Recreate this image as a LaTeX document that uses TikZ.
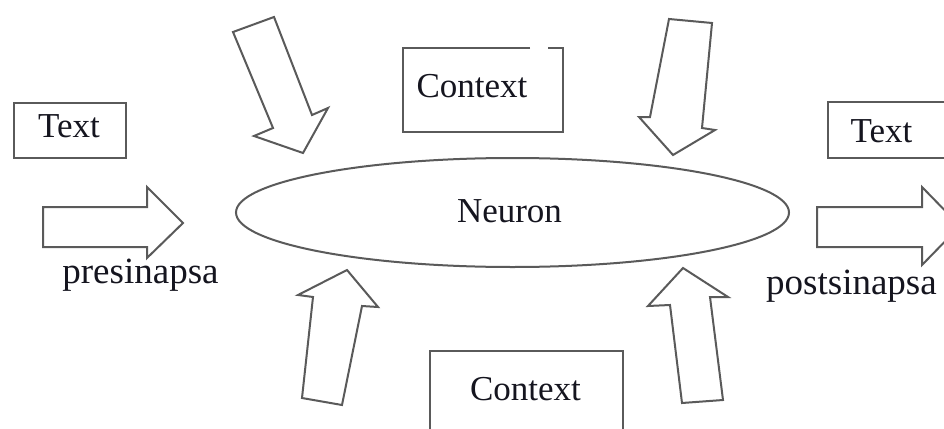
\documentclass[tikz,border=0pt]{standalone}
\usepackage{fontspec}
\setmainfont{Liberation Serif}
\usetikzlibrary{shapes.geometric}
\definecolor{linegray}{HTML}{5A5A5A}
\definecolor{inkcol}{HTML}{15151F}
\tikzset{
  outl/.style={draw=linegray, line width=2pt, line join=miter},
  boxlbl/.style={text=inkcol, font=\fontsize{35}{40}\selectfont, inner sep=0pt, anchor=base},
  synlbl/.style={text=inkcol, font=\fontsize{37}{42}\selectfont, inner sep=0pt, anchor=base},
}
\begin{document}
\begin{tikzpicture}[x=1pt,y=-1pt]
\useasboundingbox (0,0) rectangle (944,428);
\fill[white] (0,0) rectangle (944,428);
\clip (0,0) rectangle (944,428);

% Neuron ellipse
\node[outl, ellipse, minimum width=553pt, minimum height=109pt, inner sep=0pt] (neuron) at (512.5,212.5) {};
\node[boxlbl] (neurontext) at (509.5,222) {Neuron};

% Left Text box
\draw[outl] (14,103) rectangle (126,158);
\node[boxlbl] (textleft) at (69,137) {Text};

% Right Text box (cut by the border)
\draw[outl] (828,102) rectangle (960,158);
\node[boxlbl] (textright) at (881.5,142) {Text};

% Top Context box (with a gap in its top edge)
\draw[outl] (530,48) -- (403,48) -- (403,132) -- (563,132) -- (563,48) -- (548,48);
\node[boxlbl] (ctxtop) at (472,97) {Context};

% Bottom Context box (cut by the border)
\draw[outl] (430,440) -- (430,351) -- (623,351) -- (623,440);
\node[boxlbl] (ctxbottom) at (525.5,400) {Context};

% presinapsa arrow
\draw[outl] (43,207) -- (147,207) -- (147,187) -- (183,223) -- (147,258) -- (147,247) -- (43,247) -- cycle;
\node[synlbl] (presyn) at (140.5,283) {presinapsa};

% postsinapsa arrow
\draw[outl] (817,207) -- (922,207) -- (922,187) -- (960,226) -- (922,265) -- (922,247) -- (817,247) -- cycle;
\node[synlbl] (postsyn) at (851.5,294) {postsinapsa};

% top-left context arrow
\draw[outl] (233,32) -- (274,17) -- (312,115) -- (328,108) -- (303,153) -- (254,136) -- (273,128) -- cycle;

% top-right context arrow
\draw[outl] (669,19) -- (712,23) -- (702,128) -- (715,130) -- (673,155) -- (639,117) -- (650,117) -- cycle;

% bottom-left context arrow
\draw[outl] (347,270) -- (378,307) -- (362,306) -- (342,405) -- (302,398) -- (313,297) -- (298,295) -- cycle;

% bottom-right context arrow
\draw[outl] (683,268) -- (728,297) -- (710,297) -- (723,400) -- (682,403) -- (670,305) -- (648,306) -- cycle;
\end{tikzpicture}
\end{document}
